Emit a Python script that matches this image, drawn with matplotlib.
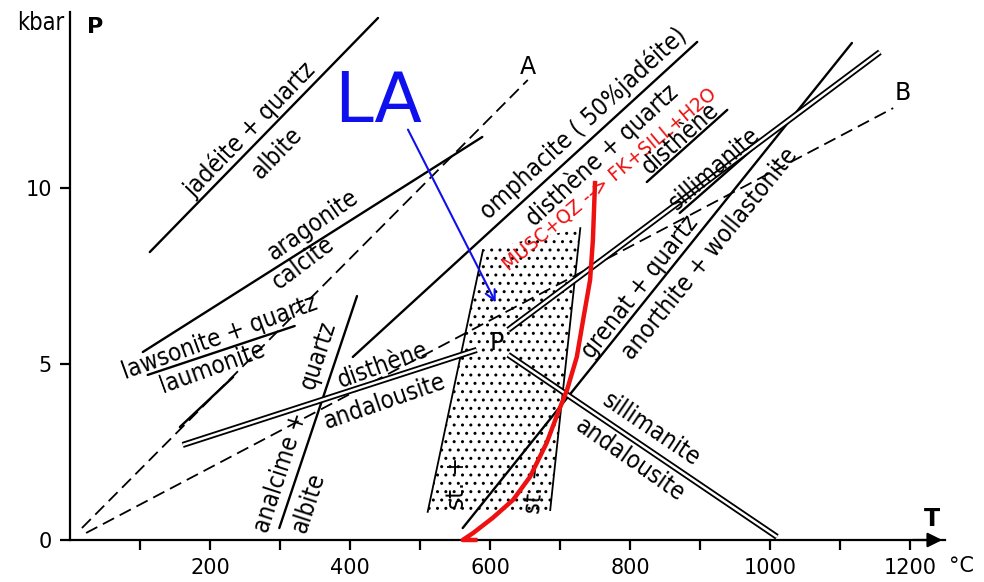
import matplotlib
matplotlib.use('Agg')
import matplotlib.pyplot as plt
from matplotlib.patches import Polygon

plt.rcParams['font.family'] = ['DejaVu Sans']

# reaction curves: T in °C, P in kbar
jadeite_T = [114, 440]
jadeite_P = [8.18, 14.83]
aragonite_T = [104, 589]
aragonite_P = [5.34, 11.45]
lawsonite_T = [111, 321]
lawsonite_P = [4.69, 6.08]
analcime_T = [299, 410]
analcime_P = [0.34, 6.93]
omphacite_T = [404, 896]
omphacite_P = [5.2, 14.15]
grenat_T = [561, 1117]
grenat_P = [0.34, 14.12]
st_plus_T = [511, 590]
st_plus_P = [0.8, 8.24]
st_minus_T = [686, 729]
st_minus_P = [0.85, 8.86]

# Al2SiO5 (double lines)
ky_and_T = [161, 581]
ky_and_P = [2.7, 5.4]
sill_and_T = [626, 1010]
sill_and_P = [5.26, 0.09]
ky_sill_T = [626, 1157]
ky_sill_P = [5.97, 13.86]

# dashed gradients A and B
grad_A_T = [17, 654]
grad_A_P = [0.34, 13.07]
laumonite_T = [157, 233]
laumonite_P = [3.21, 4.63]
grad_B_T = [23, 1176]
grad_B_P = [0.2, 12.27]

# underlines of disthène / sillimanite labels
ky_ul_T = [824, 939]
ky_ul_P = [10.17, 12.22]
sill_ul_T = [871, 990]
sill_ul_P = [9.29, 11.36]

# MUSC+QZ -> FK+SILL+H2O (red)
musc_T = [579, 561, 576, 604, 633, 657, 681, 697, 710, 724, 733, 743, 747, 750]
musc_P = [0.0, 0.0, 0.2, 0.63, 1.14, 1.79, 2.76, 3.61, 4.26, 5.2, 6.25, 7.39, 8.52, 10.14]

# LA arrow
la_T = [481, 610]
la_P = [11.73, 6.68]

x_major = [200, 400, 600, 800, 1000, 1200]
x_minor = [100, 300, 500, 700, 900, 1100]
y_ticks = [0, 5, 10]

fig = plt.figure(figsize=(9.84, 5.82), dpi=100)
ax = fig.add_axes([70 / 984, 42 / 582, 875 / 984, 528 / 582])
ax.set_xlim(0, 1250)
ax.set_ylim(0, 15)

# stippled staurolite field
stip = Polygon([(st_plus_T[0], st_plus_P[0]), (st_plus_T[1], st_plus_P[1]),
                (st_minus_T[1], st_minus_P[1]), (st_minus_T[0], st_minus_P[0])],
               closed=True, facecolor='none', edgecolor='black', hatch='..', lw=0)
ax.add_patch(stip)

lw = 1.7
for T, P in [(jadeite_T, jadeite_P), (aragonite_T, aragonite_P), (lawsonite_T, lawsonite_P),
             (analcime_T, analcime_P), (omphacite_T, omphacite_P), (grenat_T, grenat_P),
             (laumonite_T, laumonite_P), (ky_ul_T, ky_ul_P), (sill_ul_T, sill_ul_P)]:
    ax.plot(T, P, color='black', lw=lw, solid_capstyle='round')
ax.plot(st_plus_T, st_plus_P, color='black', lw=1.3)
ax.plot(st_minus_T, st_minus_P, color='black', lw=1.3)

for T, P in [(grad_A_T, grad_A_P), (grad_B_T, grad_B_P)]:
    ax.plot(T, P, color='black', lw=1.3, linestyle=(0, (7, 3.5)))

for T, P in [(ky_and_T, ky_and_P), (sill_and_T, sill_and_P), (ky_sill_T, ky_sill_P)]:
    ax.plot(T, P, color='black', lw=4.4, solid_capstyle='butt')
    ax.plot(T, P, color='white', lw=1.8, solid_capstyle='butt')

ax.plot(musc_T, musc_P, color='#ee1111', lw=3.2, clip_on=False, zorder=5)

ax.annotate('', xy=(la_T[1], la_P[1]), xytext=(la_T[0], la_P[0]),
            arrowprops=dict(arrowstyle='->', color='#1010ee', lw=1.5, mutation_scale=18))
ax.text(440, 12.44, 'LA', color='#1010ee', fontsize=50,
        ha='center', va='center')
ax.text(771, 10.26, 'MUSC+QZ --> FK+SILL+H2O', color='#ee1111', fontsize=13.5,
        rotation=40, ha='center', va='center', rotation_mode='anchor')

labels = [
    ('jadéite + quartz', 257, 11.65, 46),
    ('albite', 296, 11.0, 46),
    ('aragonite', 347, 8.95, 35),
    ('calcite', 333, 7.87, 37),
    ('lawsonite + quartz', 214, 5.74, 20),
    ('laumonite', 203, 4.89, 20),
    ('quartz', 354, 5.26, 72),
    ('analcime +', 301, 1.93, 72),
    ('albite', 340, 1.05, 72),
    ('disthène', 447, 4.97, 20),
    ('andalousite', 450, 3.92, 19),
    ('omphacite ( 50%jadéite)', 733, 11.85, 42.5),
    ('disthène + quartz', 760, 10.94, 42.5),
    ('grenat + quartz', 814, 7.19, 52),
    ('anorthite + wollastonite', 914, 8.13, 51),
    ('sillimanite', 831, 3.13, -34),
    ('andalousite', 800, 2.27, -35),
    ('st. +', 553, 1.62, 90),
    ('st. −', 664, 1.5, 85),
]
for txt, T, P, rot in labels:
    ax.text(T, P, txt, fontsize=17.5, fontstretch='condensed', rotation=rot,
            ha='center', va='center', rotation_mode='anchor')

# underlined labels sit on their underline
for txt, T, P, rot in [('disthène', 878.6, 11.26, 41.8), ('sillimanite', 927.6, 10.39, 41.2)]:
    ax.text(T, P, txt, fontsize=17.5, fontstretch='condensed', rotation=rot,
            ha='center', va='baseline', rotation_mode='anchor')

ax.text(610, 5.6, 'P', fontsize=17, ha='center', va='center')
ax.text(654, 13.44, 'A', fontsize=17, ha='center', va='center')
ax.text(1189, 12.7, 'B', fontsize=17, ha='center', va='center')

# axes
for s in ['top', 'right']:
    ax.spines[s].set_visible(False)
for s in ['left', 'bottom']:
    ax.spines[s].set_linewidth(1.6)
ax.annotate('', xy=(1.0, 0), xytext=(0.96, 0), xycoords='axes fraction',
            arrowprops=dict(arrowstyle='-|>', color='black', lw=1.6, mutation_scale=22))
ax.set_xticks(x_major)
ax.set_xticks(x_minor, minor=True)
ax.set_xticklabels([str(v) for v in x_major], fontsize=15)
ax.set_yticks(y_ticks)
ax.set_yticklabels([str(v) for v in y_ticks], fontsize=15)
ax.tick_params(which='both', direction='out', length=7, width=1.6, pad=6)

ax.text(-8, 14.7, 'kbar', fontsize=17, fontstretch='condensed', ha='right', va='center', clip_on=False)
ax.text(36, 14.57, 'P', fontsize=16, fontweight='bold', ha='center', va='center')
ax.text(1231, 0.6, 'T', fontsize=17, fontweight='bold', ha='center', va='center')
ax.text(1256, -0.74, '°C', fontsize=15, ha='left', va='center', clip_on=False)

fig.savefig('out.png', dpi=100)
